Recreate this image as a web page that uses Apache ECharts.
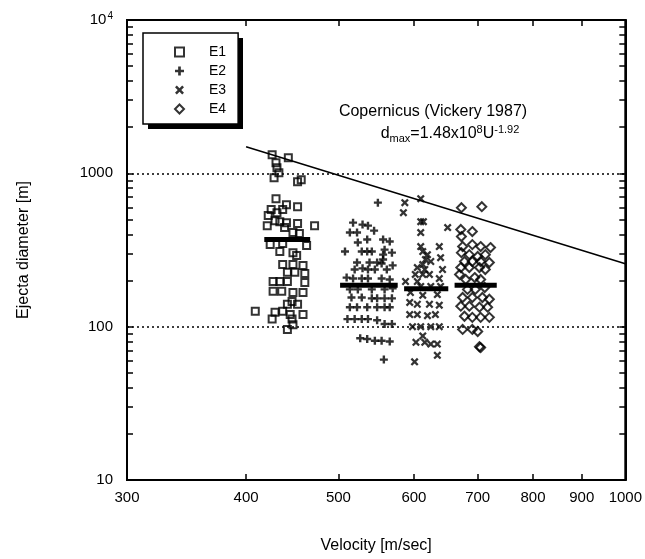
<!DOCTYPE html>
<html><head><meta charset="utf-8">
<script src="https://cdn.jsdelivr.net/npm/echarts@6/dist/echarts.min.js"></script>
<style>html,body{margin:0;padding:0;background:#fff}#c{width:645px;height:559px}</style>
</head><body><div id="c"></div>
<script>
// ---- data (velocity m/s, ejecta diameter m) ----
const seriesNames = ['E1', 'E2', 'E3', 'E4'];
const e1 = [[426,1321],[443,1264],[430,1172],[431,1087],[433,1009],[428,936],[453,882],[457,908],[430,683],[453,606],
  [441,625],[437,580],[425,580],[431,554],[422,530],[421,456],[429,491],[434,484],[441,477],[453,470],
  [472,456],[439,443],[448,411],[455,405],[424,343],[437,348],[463,338],[434,309],[448,304],[452,291],
  [437,254],[448,254],[459,251],[442,226],[450,226],[461,222],[427,197],[434,197],[442,197],[461,194],
  [427,170],[436,170],[448,167],[459,167],[447,146],[442,140],[453,140],[409,126],[429,124],[437,126],
  [445,120],[459,120],[426,112],[447,112],[448,103],[442,96]];
const e2 = [[550,644],[518,477],[530,463],[537,456],[514,411],[523,411],[545,423],[536,370],[557,370],[566,359],
  [508,309],[524,354],[529,309],[536,309],[542,309],[559,318],[557,295],[569,304],[557,274],[523,262],
  [539,262],[549,262],[555,258],[570,251],[520,236],[530,240],[537,236],[546,236],[562,236],[510,209],
  [518,206],[529,206],[537,206],[555,206],[566,203],[514,175],[524,175],[542,175],[559,175],[570,178],
  [516,155],[529,155],[542,153],[549,153],[559,153],[569,153],[514,134],[523,134],[536,134],[549,134],
  [559,134],[566,134],[511,112],[520,112],[529,112],[537,112],[549,110],[559,104],[569,104],[527,84],
  [536,83],[546,81],[555,81],[566,80],[558,61]];
const e3 = [[587,644],[610,683],[585,554],[610,484],[614,484],[610,411],[651,443],[610,333],[638,333],[613,309],
  [620,295],[617,274],[640,282],[613,254],[625,266],[605,243],[616,236],[643,236],[602,219],[613,219],
  [623,219],[638,206],[588,197],[605,197],[610,183],[625,183],[640,183],[595,167],[613,160],[635,162],
  [594,144],[605,140],[623,140],[638,138],[594,120],[605,120],[620,118],[632,120],[598,100],[610,100],
  [625,100],[638,100],[613,87],[603,79],[616,79],[625,77],[635,77],[635,65],[601,59]];
const e4 = [[673,597],[707,606],[672,430],[691,417],[673,387],[675,333],[691,343],[705,333],[722,328],[673,304],
  [686,295],[700,287],[713,295],[678,266],[691,266],[705,266],[720,262],[672,243],[686,243],[703,243],
  [713,236],[670,219],[680,203],[695,209],[705,203],[683,175],[696,175],[712,180],[675,155],[691,155],
  [708,155],[720,151],[672,136],[686,136],[703,134],[717,134],[678,117],[691,115],[705,115],[720,115],
  [675,96],[691,96],[700,93],[703,74],[705,73]];
// mean bars per group
const meanVelLo = [418, 502, 586, 662];
const meanVelHi = [467, 577, 652, 733];
const meanDia = [370, 186, 177, 186];
// Vickery (1987) d_max line end points
const fitVel = [400, 1000];
const fitDia = [1490, 257];
// axis ticks / labels
const xLabelValues = [300, 400, 500, 600, 700, 800, 900, 1000];
const xTickValues = [400, 500, 600, 700, 800, 900];
const yLabelValues = [10, 100, 1000, 10000];
const yTickValues = [20,30,40,50,60,70,80,90,100,200,300,400,500,600,700,800,900,1000,2000,3000,4000,5000,6000,7000,8000,9000];

const FONT = '"Liberation Sans", Arial, Helvetica, sans-serif';
const PLUS = 'path://M2.8,0H5.2V2.8H8V5.2H5.2V8H2.8V5.2H0V2.8H2.8Z';
const CROSS = 'path://M0,2L2,0L5,3L8,0L10,2L7,5L10,8L8,10L5,7L2,10L0,8L3,5Z';

const chart = echarts.init(document.getElementById('c'), null, {renderer: 'canvas'});

const hollow = {color: 'rgba(0,0,0,0)', borderColor: '#000', borderWidth: 2};
const filled = {color: '#000', borderWidth: 0};

const series = [
  {name: seriesNames[0], type: 'scatter', data: e1, symbol: 'rect', symbolSize: 7, itemStyle: hollow},
  {name: seriesNames[1], type: 'scatter', data: e2, symbol: PLUS, symbolSize: 8, itemStyle: filled},
  {name: seriesNames[2], type: 'scatter', data: e3, symbol: CROSS, symbolSize: 8, itemStyle: filled},
  {name: seriesNames[3], type: 'scatter', data: e4, symbol: 'diamond', symbolSize: 9, itemStyle: hollow}
];
for (let i = 0; i < meanDia.length; i++) {
  series.push({type: 'line', data: [[meanVelLo[i], meanDia[i]], [meanVelHi[i], meanDia[i]]],
    symbol: 'none', lineStyle: {color: '#000', width: 5}, silent: true, z: 5});
}
series.push({type: 'line', data: fitVel.map((v, i) => [v, fitDia[i]]), symbol: 'none',
  lineStyle: {color: '#000', width: 1.5}, silent: true, z: 4});

const tickStyle = {color: '#000', width: 1.5};
const lineStyle = {color: '#000', width: 2};

chart.setOption({
  animation: false,
  backgroundColor: '#fff',
  textStyle: {fontFamily: FONT},
  grid: {left: 127, right: 19, top: 20, bottom: 78, show: true, borderColor: '#000', borderWidth: 2, backgroundColor: 'rgba(0,0,0,0)'},
  legend: {
    data: seriesNames, orient: 'vertical', left: 143, top: 33, z: 6,
    padding: [12, 12, 8, 31], itemWidth: 9, itemHeight: 9, itemGap: 5,
    backgroundColor: '#fff', borderColor: '#000', borderWidth: 1.5,
    textStyle: {color: '#000', fontSize: 14, fontFamily: FONT, padding: [0, 0, 0, 20]}, selectedMode: false
  },
  xAxis: [
    {type: 'log', min: 300, max: 1000, position: 'bottom',
      axisLine: {show: true, lineStyle: lineStyle},
      axisTick: {show: true, inside: true, length: 6, customValues: xTickValues, lineStyle: tickStyle},
      axisLabel: {show: true, customValues: xLabelValues, color: '#000', fontSize: 15, margin: 10, fontFamily: FONT,
        formatter: v => String(v)},
      splitLine: {show: false}, minorTick: {show: false},
      name: 'Velocity [m/sec]', nameLocation: 'middle', nameGap: 58,
      nameTextStyle: {color: '#000', fontSize: 16, fontFamily: FONT}},
    {type: 'log', min: 300, max: 1000, position: 'top',
      axisLine: {show: true, lineStyle: lineStyle},
      axisTick: {show: true, inside: true, length: 6, customValues: xTickValues, lineStyle: tickStyle},
      axisLabel: {show: false}, splitLine: {show: false}}
  ],
  yAxis: [
    {type: 'log', min: 10, max: 10000, position: 'left',
      axisLine: {show: true, lineStyle: lineStyle},
      axisTick: {show: true, inside: true, length: 6, customValues: yTickValues, lineStyle: tickStyle},
      axisLabel: {show: true, customValues: yLabelValues, color: '#000', fontSize: 15, margin: 14, fontFamily: FONT,
        formatter: v => v === 10000 ? '{b|10}{s|4}' : String(v),
        rich: {b: {fontSize: 15, color: '#000', fontFamily: FONT}, s: {fontSize: 10, color: '#000', fontFamily: FONT, padding: [0, 0, 8, 1]}}},
      splitLine: {show: false}, minorTick: {show: false},
      name: 'Ejecta diameter [m]', nameLocation: 'middle', nameGap: 95,
      nameTextStyle: {color: '#000', fontSize: 16, fontFamily: FONT}},
    {type: 'log', min: 10, max: 10000, position: 'right',
      axisLine: {show: true, lineStyle: lineStyle},
      axisTick: {show: true, inside: true, length: 6, customValues: yTickValues, lineStyle: tickStyle},
      axisLabel: {show: false}, splitLine: {show: false}},
    {type: 'log', min: 10, max: 10000, position: 'left',
      axisLine: {show: false}, axisTick: {show: false}, axisLabel: {show: false},
      splitLine: {show: true, lineStyle: {color: '#000', width: 1.5, type: [2, 3]}}}
  ],
  graphic: [
    // drop shadow behind the legend box
    {type: 'rect', z: 5, shape: {x: 148, y: 38, width: 95, height: 91}, style: {fill: '#000'}},
    {type: 'text', x: 433, y: 112, z: 10,
      style: {text: 'Copernicus (Vickery 1987)', align: 'center', verticalAlign: 'middle', fill: '#000', fontSize: 16, fontFamily: FONT}},
    {type: 'text', x: 450, y: 134, z: 10,
      style: {text: '{n|d}{b|max}{n|=1.48x10}{p|8}{n|U}{p|-1.92}', align: 'center', verticalAlign: 'middle',
        rich: {
          n: {fontSize: 16, fill: '#000', fontFamily: FONT},
          b: {fontSize: 11, fill: '#000', fontFamily: FONT, padding: [10, 0, 0, 0]},
          p: {fontSize: 11, fill: '#000', fontFamily: FONT, padding: [0, 0, 9, 0]}
        }}}
  ],
  series: series
});
</script></body></html>
